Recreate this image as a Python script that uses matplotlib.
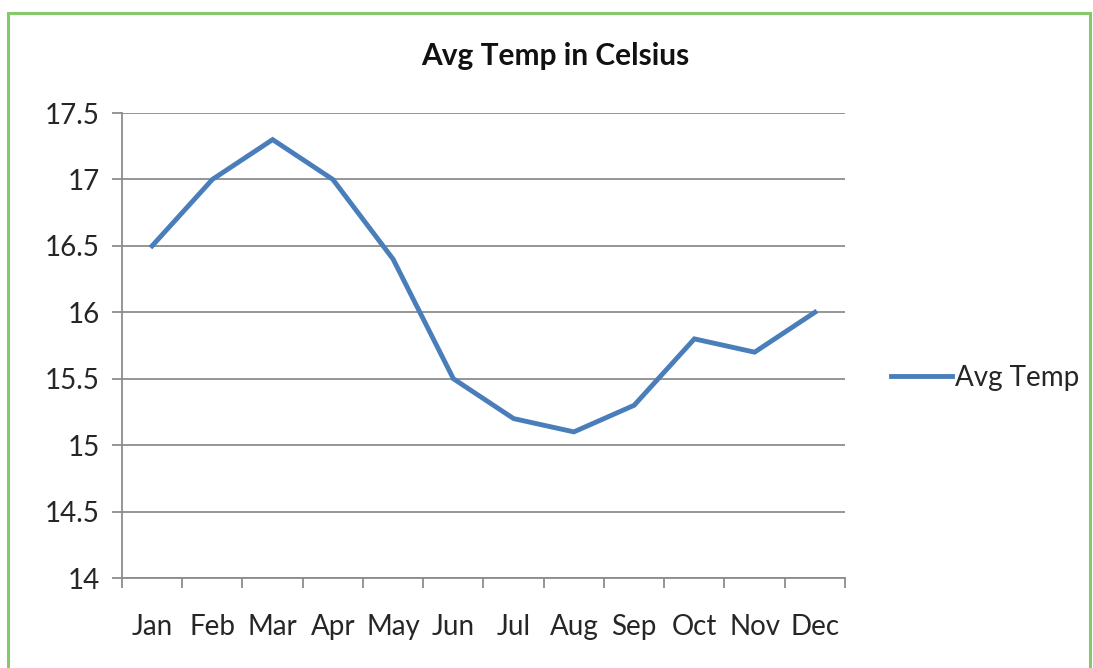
import matplotlib
matplotlib.use("Agg")
import matplotlib.pyplot as plt
from matplotlib.patches import Rectangle

months = ["Jan", "Feb", "Mar", "Apr", "May", "Jun",
          "Jul", "Aug", "Sep", "Oct", "Nov", "Dec"]
avg_temp = [16.5, 17.0, 17.3, 17.0, 16.4, 15.5,
            15.2, 15.1, 15.3, 15.8, 15.7, 16.0]
y_ticks = [14, 14.5, 15, 15.5, 16, 16.5, 17, 17.5]
y_labels = ["14", "14.5", "15", "15.5", "16", "16.5", "17", "17.5"]

plt.rcParams['font.family'] = ['Lato', 'DejaVu Sans']
GRID = "#8c8c8c"
TXT = "#262626"
FS = 20

fig = plt.figure(figsize=(10.93, 6.68), dpi=100)
ax = fig.add_axes([0.1116, 0.1347, 0.6615, 0.6961])

x = list(range(len(months)))
ax.plot(x, avg_temp, color="#4a7ebb", linewidth=3.5, label="Avg Temp",
        solid_joinstyle="miter")

ax.set_xlim(-0.5, len(months) - 0.5)
ax.set_ylim(14, 17.5)
ax.set_yticks(y_ticks)
ax.set_yticklabels(y_labels)
ax.set_xticks(x)
ax.set_xticklabels(months)
# category tick marks sit between the labels
ax.set_xticks([i - 0.5 for i in range(len(months) + 1)], minor=True)
ax.tick_params(axis="x", which="major", length=0, pad=26, labelsize=FS, labelcolor=TXT)
ax.tick_params(axis="x", which="minor", length=7, width=1.3, color=GRID, direction="out")
ax.tick_params(axis="y", length=7, width=1.3, color=GRID, pad=9, labelsize=FS, labelcolor=TXT)

ax.grid(axis="y", color=GRID, linewidth=1.3)
ax.set_axisbelow(True)
for s in ["top", "right"]:
    ax.spines[s].set_visible(False)
for s in ["left", "bottom"]:
    ax.spines[s].set_color(GRID)
    ax.spines[s].set_linewidth(1.3)

fig.text(0.508, 0.916, "Avg Temp in Celsius", ha="center", va="center",
         fontsize=21.5, fontweight="bold", color="#111111")

fig.legend(loc="center left", bbox_to_anchor=(0.792, 0.434), frameon=False,
           fontsize=FS, handlelength=2.2, handletextpad=0.1, labelcolor=TXT)

# green frame around the chart
fig.patches.append(Rectangle((8 / 1093, -0.05), 1082 / 1093, 1.05 - 13 / 668,
                             transform=fig.transFigure, fill=False,
                             edgecolor="#86c96a", linewidth=2.2))

fig.savefig("out.png", dpi=100)
